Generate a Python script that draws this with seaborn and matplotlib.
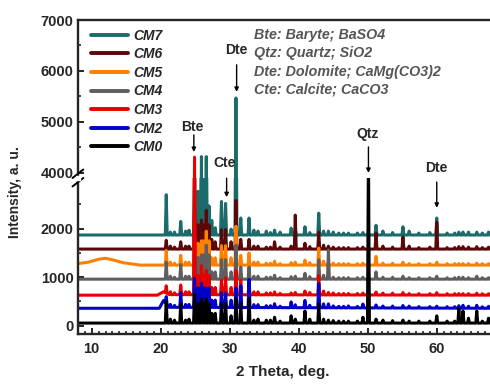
import numpy as np
import pandas as pd
import matplotlib
matplotlib.use("Agg")
import matplotlib.pyplot as plt
import seaborn as sns

# ---------------- data ----------------
samples = ["CM7", "CM6", "CM5", "CM4", "CM3", "CM2", "CM0"]
colors = ["#1b6b6b", "#5a0808", "#ff8000", "#5e5e5e", "#e60000", "#0000c8", "#000000"]

# main peak positions (2 theta, deg)
peak_pos = [20.8, 22.0, 22.9, 24.1, 24.9, 25.9, 26.6, 27.4, 28.8, 29.4, 30.9, 31.6,
            32.8, 33.5, 35.3, 36.5, 37.3, 38.9, 39.5, 40.9, 42.9, 44.3, 45.8, 47.2,
            49.3, 50.1, 51.2, 52.2, 55.1, 56.0, 59.0, 60.0, 63.2, 63.8, 64.6, 65.8, 67.5]
# weaker / shoulder peaks
minor_pos = [21.4, 23.6, 25.4, 26.2, 27.0, 27.9, 30.2, 34.1, 35.9, 41.6, 43.6, 45.0,
             46.5, 48.5, 53.6, 57.4, 61.5, 62.6, 66.6]

# baselines: knots (x, intensity)
base_CM7 = ([8, 68], [1870, 1870])
base_CM6 = ([8, 68], [1580, 1580])
base_CM5 = ([8, 9.5, 11, 12, 13, 14.5, 17, 68], [1280, 1310, 1370, 1390, 1360, 1300, 1250, 1250])
base_CM4 = ([8, 68], [960, 960])
base_CM3 = ([8, 19.5, 20.4, 21.3, 68], [630, 630, 700, 640, 630])
base_CM2 = ([8, 19.8, 20.4, 21.2, 68], [360, 360, 520, 380, 360])
base_CM0 = ([8, 68], [55, 55])

# peak heights above baseline, one per peak_pos entry
h_CM7 = [830, 60, 280, 100, 1500, 2450, 2450, 300, 690, 650, 3600, 350,
         350, 100, 80, 100, 60, 140, 120, 170, 450, 80, 40, 40,
         50, 50, 200, 80, 170, 80, 50, 350, 60, 60, 60, 60, 60]
h_CM6 = [180, 40, 150, 60, 800, 600, 800, 200, 400, 400, 1000, 200,
         200, 60, 40, 150, 40, 60, 700, 120, 350, 60, 30, 30,
         40, 40, 330, 60, 250, 60, 40, 550, 50, 50, 40, 50, 40]
h_CM5 = [300, 40, 200, 60, 600, 500, 700, 150, 400, 400, 800, 200,
         250, 60, 40, 80, 30, 50, 60, 100, 350, 50, 30, 30,
         40, 50, 180, 40, 60, 30, 30, 60, 30, 30, 30, 40, 30]
h_CM4 = [350, 40, 300, 60, 700, 500, 700, 150, 400, 400, 700, 250,
         250, 60, 40, 80, 30, 50, 60, 120, 400, 600, 30, 30,
         40, 50, 150, 40, 60, 30, 30, 60, 40, 40, 30, 60, 30]
h_CM3 = [150, 40, 200, 60, 3670, 600, 500, 150, 300, 350, 500, 300,
         250, 60, 40, 60, 30, 40, 50, 80, 400, 50, 30, 30,
         40, 50, 60, 40, 50, 30, 30, 50, 30, 30, 30, 40, 30]
h_CM2 = [150, 40, 300, 60, 600, 500, 400, 150, 300, 300, 400, 450,
         580, 60, 40, 80, 30, 120, 60, 150, 500, 80, 30, 40,
         80, 60, 60, 40, 50, 40, 30, 40, 50, 60, 40, 60, 40]
h_CM0 = [450, 60, 400, 80, 600, 500, 500, 200, 400, 400, 500, 400,
         500, 60, 60, 120, 40, 150, 80, 250, 400, 60, 40, 40,
         120, 3600, 80, 60, 60, 40, 40, 150, 300, 250, 100, 250, 100]

# heights of the weaker peaks, one per minor_pos entry
m_CM7 = [60, 80, 900, 1200, 600, 150, 120, 80, 50, 50, 80, 60, 40, 40, 50, 40, 40, 40, 40]
m_CM6 = [60, 60, 500, 500, 500, 150, 150, 60, 40, 50, 80, 40, 30, 30, 40, 30, 30, 30, 30]
m_CM5 = [60, 60, 450, 500, 500, 150, 150, 60, 40, 50, 80, 40, 30, 30, 40, 30, 30, 30, 30]
m_CM4 = [60, 60, 450, 500, 500, 150, 150, 60, 40, 50, 80, 40, 30, 30, 40, 30, 30, 30, 30]
m_CM3 = [60, 60, 400, 400, 400, 150, 150, 60, 40, 50, 80, 40, 30, 30, 40, 30, 30, 30, 30]
m_CM2 = [60, 60, 400, 400, 400, 150, 150, 60, 40, 50, 80, 40, 30, 30, 40, 30, 30, 30, 30]
m_CM0 = [80, 60, 400, 400, 400, 200, 150, 80, 60, 80, 80, 50, 40, 40, 50, 40, 40, 40, 40]

peak_halfwidth = 0.14

bases = dict(CM7=base_CM7, CM6=base_CM6, CM5=base_CM5, CM4=base_CM4,
             CM3=base_CM3, CM2=base_CM2, CM0=base_CM0)
heights = dict(CM7=h_CM7, CM6=h_CM6, CM5=h_CM5, CM4=h_CM4,
               CM3=h_CM3, CM2=h_CM2, CM0=h_CM0)
minor_heights = dict(CM7=m_CM7, CM6=m_CM6, CM5=m_CM5, CM4=m_CM4,
                     CM3=m_CM3, CM2=m_CM2, CM0=m_CM0)

# ---------------- build long-form table of vertices ----------------
rows = []
for s in samples:
    bx, by = bases[s]
    xs = list(bx)
    extra = [0] * len(bx)
    for p, h in list(zip(peak_pos, heights[s])) + list(zip(minor_pos, minor_heights[s])):
        xs += [p - peak_halfwidth, p, p + peak_halfwidth]
        extra += [0, h, 0]
    order = np.argsort(xs, kind="stable")
    for i in order:
        x = xs[i]
        rows.append((s, x, np.interp(x, bx, by) + extra[i]))
df = pd.DataFrame(rows, columns=["sample", "theta", "I"])

# ---------------- figure ----------------
sns.set_style("ticks")
plt.rcParams["font.family"] = ["Liberation Sans", "DejaVu Sans"]
plt.rcParams["font.weight"] = "bold"

fig = plt.figure(figsize=(4.9, 3.85), dpi=100)
left, width = 0.159, 0.845
ybrk = 0.5377
ax_hi = fig.add_axes([left, ybrk, width, 0.948 - ybrk])
ax_lo = fig.add_axes([left, 0.1325, width, ybrk - 0.1325])

pal = dict(zip(samples, colors))
for ax, leg in [(ax_lo, False), (ax_hi, True)]:
    sns.lineplot(data=df, x="theta", y="I", hue="sample", hue_order=samples,
                 palette=pal, ax=ax, linewidth=2.2, sort=False, estimator=None,
                 legend=leg)
    ax.set_xlim(8, 68)
    ax.set_xlabel("")
    ax.set_ylabel("")

ax_lo.set_ylim(-170, 3045)
ax_hi.set_ylim(3900, 7000)

lw_sp = 1.7
for ax in (ax_lo, ax_hi):
    ax.spines["right"].set_visible(False)
    for sp in ax.spines.values():
        sp.set_linewidth(lw_sp)
ax_lo.spines["top"].set_visible(False)
ax_hi.spines["bottom"].set_visible(False)

ax_lo.set_xticks([10, 20, 30, 40, 50, 60])
ax_lo.set_xticks(np.arange(8, 69, 1), minor=True)
ax_lo.set_yticks([0, 1000, 2000])
ax_lo.set_yticks([500, 1500, 2500], minor=True)
ax_hi.set_xticks([])
ax_hi.set_xticks([], minor=True)
ax_hi.set_yticks([4000, 5000, 6000, 7000])
ax_hi.set_yticks([4500, 5500, 6500], minor=True)

for ax in (ax_lo, ax_hi):
    ax.tick_params(which="major", direction="in", length=4, width=1.4,
                   labelsize=10.5, pad=3)
    ax.tick_params(which="minor", direction="in", length=2.5, width=1.2)
    for lab in ax.get_xticklabels() + ax.get_yticklabels():
        lab.set_fontweight("bold")
ax_lo.tick_params(axis="x", pad=6)

# break marks on left spine
for dy in (-0.011, 0.011):
    fig.add_artist(plt.Line2D([left - 0.011, left + 0.011],
                              [ybrk + dy - 0.011, ybrk + dy + 0.011],
                              color="black", lw=1.4, transform=fig.transFigure))
fig.add_artist(plt.Rectangle((left - 0.004, ybrk - 0.006), 0.008, 0.012,
                             color="white", transform=fig.transFigure, zorder=5))

# legend
handles, labels = ax_hi.get_legend_handles_labels()
for hnd in handles:
    hnd.set_linewidth(2.8)
ax_hi.legend(handles, labels, loc="upper left", bbox_to_anchor=(0.017, 0.98),
             frameon=False, handlelength=2.7, handletextpad=0.4,
             labelspacing=0.33, borderaxespad=0.0,
             prop=dict(size=10, weight="bold", style="italic"))

# phase key
key = ["Bte: Baryte; BaSO4", "Qtz: Quartz; SiO2",
       "Dte: Dolomite; CaMg(CO3)2", "Cte: Calcite; CaCO3"]
for i, t in enumerate(key):
    fig.text(254 / 490, 1 - (35 + 18.3 * i) / 385, t, fontsize=10.3, fontweight="bold",
             style="italic", color="#555555", va="center", ha="left")

# peak annotations
ann = dict(fontsize=10, fontweight="bold", ha="center", va="center")
arrow = dict(arrowstyle="-|>", lw=1.0, color="black", mutation_scale=6, shrinkA=0, shrinkB=0)
ax_hi.annotate("", xy=(24.8, 4410), xytext=(24.8, 4745), arrowprops=arrow)
ax_hi.text(24.6, 4900, "Bte", **ann)
ax_hi.annotate("", xy=(31.0, 5590), xytext=(31.0, 6120), arrowprops=arrow)
ax_hi.text(31.0, 6410, "Dte", **ann)
ax_hi.annotate("", xy=(50.1, 4000), xytext=(50.1, 4510), arrowprops=arrow)
ax_hi.text(50.0, 4760, "Qtz", **ann)
ax_lo.annotate("", xy=(29.55, 2650), xytext=(29.55, 3040), arrowprops=arrow,
               annotation_clip=False)
ax_lo.text(29.3, 3355, "Cte", clip_on=False, **ann)
ax_lo.annotate("", xy=(60.0, 2430), xytext=(60.0, 2960), arrowprops=arrow,
               annotation_clip=False)
ax_lo.text(60.0, 3250, "Dte", clip_on=False, **ann)

fig.text(0.578, 0.034, "2 Theta, deg.", fontsize=11, fontweight="bold",
         ha="center", va="center")
fig.text(0.031, 0.501, "Intensity, a. u.", fontsize=10, fontweight="bold",
         rotation=90, ha="center", va="center")

fig.savefig("out.png", dpi=100)
